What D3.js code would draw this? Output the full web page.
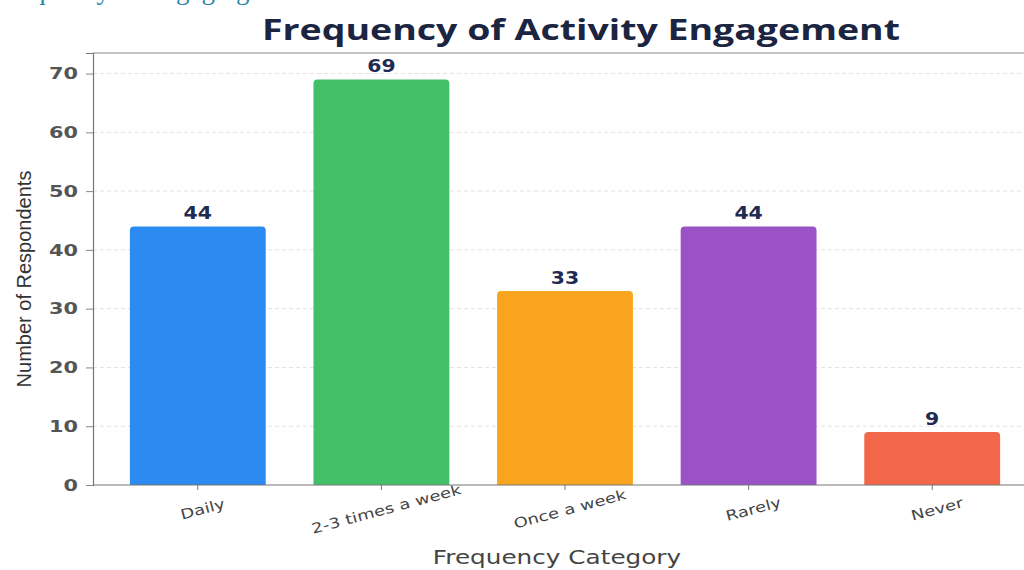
<!DOCTYPE html>
<html>
<head>
<meta charset="utf-8">
<script src="https://cdn.jsdelivr.net/npm/d3@7"></script>
<style>
  html, body { margin: 0; padding: 0; background: #ffffff; }
  svg { display: block; }
</style>
</head>
<body>
<svg id="chart" width="1024" height="570"></svg>
<script>
// Survey results: how often respondents take part in the activity
const categories = ["Daily", "2-3 times a week", "Once a week", "Rarely", "Never"];
const respondents = [44, 69, 33, 44, 9];
const barColors = ["#2b8bf0", "#41c068", "#f9a51f", "#9a52c6", "#f2674a"];
const yTicks = [0, 10, 20, 30, 40, 50, 60, 70];

const svg = d3.select("#chart");
const W = 1024, H = 570;

const plot = { left: 93, top: 53, bottom: 485 };

const x = d3.scaleBand()
  .domain(categories)
  .range([106, 1024])
  .paddingInner(0.26)
  .paddingOuter(0.13);

const y = d3.scaleLinear()
  .domain([0, 73.5])
  .range([plot.bottom, plot.top]);

// widen a text run along its baseline by a given factor
function widen(sel, factor) {
  sel.each(function () {
    const len = this.getComputedTextLength();
    d3.select(this)
      .attr("textLength", len * factor)
      .attr("lengthAdjust", "spacingAndGlyphs");
  });
}

// header line partly above the page edge
svg.append("text")
  .attr("x", -4)
  .attr("y", -1)
  .attr("font-family", "Liberation Serif, serif")
  .attr("font-size", 27)
  .attr("fill", "#2a86a6")
  .text("Frequency of Engaging");

// title
svg.append("text")
  .attr("x", 581)
  .attr("y", 40)
  .attr("text-anchor", "middle")
  .attr("font-family", "Open Sans, sans-serif")
  .attr("font-weight", 700)
  .attr("font-size", 28)
  .attr("fill", "#1b2440")
  .attr("textLength", 638)
  .attr("lengthAdjust", "spacingAndGlyphs")
  .text("Frequency of Activity Engagement");

// dashed grid
svg.append("g")
  .selectAll("line")
  .data(yTicks.filter(d => d > 0))
  .join("line")
  .attr("x1", plot.left)
  .attr("x2", W)
  .attr("y1", d => y(d))
  .attr("y2", d => y(d))
  .attr("stroke", "#e3e3e3")
  .attr("stroke-width", 1)
  .attr("stroke-dasharray", "4,3");

// frame: top edge
svg.append("line")
  .attr("x1", plot.left).attr("x2", W)
  .attr("y1", plot.top).attr("y2", plot.top)
  .attr("stroke", "#8a8a8a").attr("stroke-width", 1.2);

// y axis
const yAxis = svg.append("g")
  .attr("transform", `translate(${plot.left},0)`)
  .call(d3.axisLeft(y).tickValues(yTicks).tickSize(7).tickPadding(8));
yAxis.select(".domain").attr("stroke", "#777").attr("stroke-width", 1.2);
yAxis.selectAll(".tick line").attr("stroke", "#888");
yAxis.selectAll(".tick text")
  .attr("font-family", "DejaVu Sans, sans-serif")
  .attr("font-weight", 600)
  .attr("font-size", 16)
  .attr("fill", "#555")
  .call(widen, 1.3);

// bars with softly rounded tops
const r = 4;
svg.append("g")
  .selectAll("path")
  .data(categories)
  .join("path")
  .attr("fill", (d, i) => barColors[i])
  .attr("d", (d, i) => {
    const x0 = x(d), w = x.bandwidth();
    const yt = y(respondents[i]), yb = y(0);
    return `M${x0},${yb}V${yt + r}Q${x0},${yt} ${x0 + r},${yt}H${x0 + w - r}Q${x0 + w},${yt} ${x0 + w},${yt + r}V${yb}Z`;
  });

// value labels
svg.append("g")
  .selectAll("text")
  .data(categories)
  .join("text")
  .attr("x", d => x(d) + x.bandwidth() / 2)
  .attr("y", (d, i) => y(respondents[i]) - 7)
  .attr("text-anchor", "middle")
  .attr("font-family", "DejaVu Sans, sans-serif")
  .attr("font-weight", 700)
  .attr("font-size", 17)
  .attr("fill", "#1f2b52")
  .text((d, i) => respondents[i])
  .call(widen, 1.2);

// x axis
const xAxis = svg.append("g")
  .attr("transform", `translate(0,${plot.bottom})`)
  .call(d3.axisBottom(x).tickSize(5).tickPadding(6));
xAxis.select(".domain").remove();
svg.append("line")
  .attr("x1", plot.left).attr("x2", W)
  .attr("y1", plot.bottom).attr("y2", plot.bottom)
  .attr("stroke", "#777").attr("stroke-width", 1.2);
xAxis.selectAll(".tick line").attr("stroke", "#777");
xAxis.selectAll(".tick text")
  .attr("font-family", "DejaVu Sans, sans-serif")
  .attr("font-size", 14)
  .attr("fill", "#444")
  .attr("text-anchor", "middle")
  .attr("dy", "0.9em")
  .attr("transform", "translate(0,6) rotate(-15)")
  .call(widen, 1.28);

// axis titles
svg.append("text")
  .attr("x", 557)
  .attr("y", 564)
  .attr("text-anchor", "middle")
  .attr("font-family", "DejaVu Sans, sans-serif")
  .attr("font-size", 19)
  .attr("fill", "#444")
  .text("Frequency Category")
  .call(widen, 1.3);

svg.append("text")
  .attr("transform", "translate(31,279) rotate(-90)")
  .attr("text-anchor", "middle")
  .attr("font-family", "Liberation Sans Narrow, Liberation Sans, sans-serif")
  .attr("font-size", 20)
  .attr("fill", "#333")
  .text("Number of Respondents");
</script>
</body>
</html>
